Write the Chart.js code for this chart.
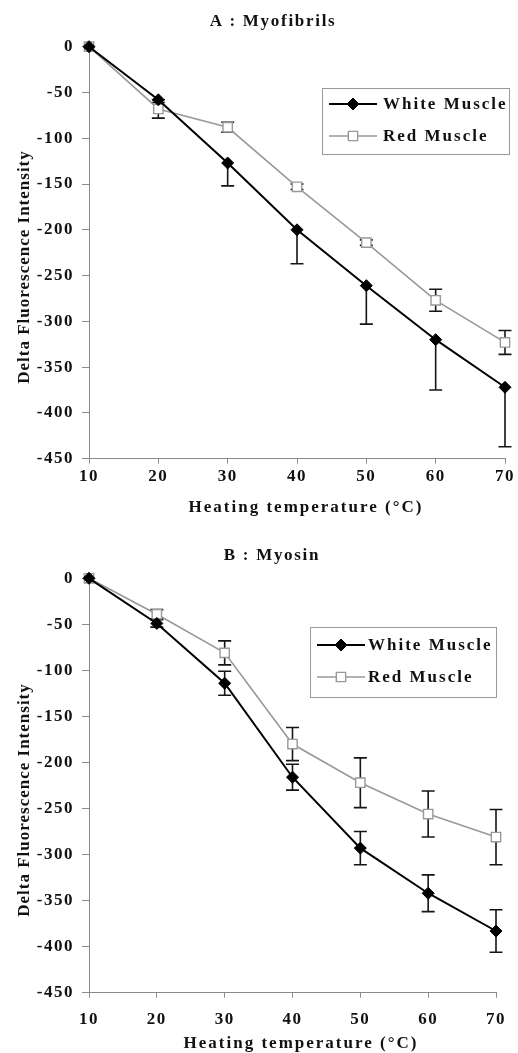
<!DOCTYPE html>
<html>
<head>
<meta charset="utf-8">
<script src="https://cdn.jsdelivr.net/npm/chart.js@4.4.1/dist/chart.umd.min.js"></script>
<style>
  html, body { margin: 0; padding: 0; background: #fff; overflow: hidden; }
  canvas { display: block; }
</style>
</head>
<body>
<canvas id="chartA" width="518" height="526"></canvas>
<canvas id="chartB" width="518" height="534"></canvas>
<script>
/* ---------- data ---------- */
const temps = [10, 20, 30, 40, 50, 60, 70];
const seriesNames = ["White Muscle", "Red Muscle"];

// A : Myofibrils
const whiteA = [0, -58, -127, -200, -261, -320, -372];
const whiteAErrUp = [0, 0, 0, 0, 0, 0, 0];
const whiteAErrDown = [0, 3, 25, 37, 42, 55, 65];
const redA = [0, -68, -88, -153, -214, -277, -323];
const redAErr = [0, 10, 5.5, 3, 3, 12, 13];

// B : Myosin
const whiteB = [0, -49, -114, -216, -293, -342, -383];
const whiteBErr = [0, 4, 13, 14, 18, 20, 23];
const redB = [0, -39, -81, -180, -222, -256, -281];
const redBErr = [0, 5, 13, 18, 27, 25, 30];

const xTitle = "Heating temperature (°C)";
const yTitle = "Delta Fluorescence Intensity";

/* ---------- styles ---------- */
const FONT = "'Liberation Serif', 'Times New Roman', serif";
const TEXT = "#111";
const AXIS = "#8a8a8a";
const RED_LINE = "#999";

const pts = vals => vals.map((v, i) => ({ x: temps[i], y: v }));

// canvas text in the scan is loosely spaced
const spacing = {
  id: "spacing",
  beforeLayout(c) { c.ctx.letterSpacing = "1.5px"; },
  beforeDraw(c) { c.ctx.letterSpacing = "1.5px"; }
};

// error bars under the lines/markers
const errorBars = {
  id: "errorBars",
  beforeDatasetsDraw(chart) {
    const { ctx, scales: { y } } = chart;
    ctx.save();
    ctx.strokeStyle = "#151515";
    ctx.lineWidth = 1.6;
    chart.data.datasets.forEach((ds, i) => {
      const meta = chart.getDatasetMeta(i);
      meta.data.forEach((p, j) => {
        const v = ds.data[j].y;
        const up = ds.errUp[j] || 0, dn = ds.errDown[j] || 0;
        if (!up && !dn) return;
        const yt = y.getPixelForValue(v + up);
        const yb = y.getPixelForValue(v - dn);
        ctx.beginPath();
        ctx.moveTo(p.x, yt); ctx.lineTo(p.x, yb);
        if (up) { ctx.moveTo(p.x - 6.5, yt); ctx.lineTo(p.x + 6.5, yt); }
        if (dn) { ctx.moveTo(p.x - 6.5, yb); ctx.lineTo(p.x + 6.5, yb); }
        ctx.stroke();
      });
    });
    ctx.restore();
  }
};

// chart + axis titles placed like the scan (not centred on the canvas)
const titles = {
  id: "titles",
  afterDraw(chart, args, o) {
    const ctx = chart.ctx;
    const put = (txt, x, y, rot, sp) => {
      ctx.save();
      ctx.letterSpacing = sp;
      ctx.font = "bold 17px " + FONT;
      ctx.fillStyle = TEXT;
      ctx.textAlign = "center";
      ctx.textBaseline = "middle";
      ctx.translate(x, y);
      if (rot) ctx.rotate(-Math.PI / 2);
      ctx.fillText(txt, 0, 0);
      ctx.restore();
    };
    put(o.text, o.tx, o.ty, false, "1.7px");
    put(xTitle, o.xx, o.xy, false, "2px");
    put(yTitle, o.yx, o.yy, true, "1px");
  }
};

function marker(ctx, style, x, y, r, fill, stroke, bw) {
  ctx.beginPath();
  if (style === "rectRot") {
    ctx.moveTo(x - r, y); ctx.lineTo(x, y - r); ctx.lineTo(x + r, y); ctx.lineTo(x, y + r);
  } else {
    const s = r * Math.SQRT1_2;
    ctx.rect(x - s, y - s, 2 * s, 2 * s);
  }
  ctx.closePath();
  ctx.fillStyle = fill; ctx.fill();
  ctx.lineWidth = bw; ctx.strokeStyle = stroke; ctx.stroke();
}

// boxed legend inside the plot
const boxLegend = {
  id: "boxLegend",
  afterDraw(chart, args, o) {
    const ctx = chart.ctx;
    ctx.save();
    ctx.letterSpacing = "2px";
    ctx.fillStyle = "#fff";
    ctx.fillRect(o.x, o.y, o.w, o.h);
    ctx.strokeStyle = "#9a9a9a"; ctx.lineWidth = 1;
    ctx.strokeRect(o.x + 0.5, o.y + 0.5, o.w, o.h);
    chart.data.datasets.forEach((ds, i) => {
      const ry = o.y + o.row1 + i * o.gap;
      ctx.beginPath();
      ctx.moveTo(o.x + 7, ry); ctx.lineTo(o.x + 55, ry);
      ctx.strokeStyle = ds.borderColor; ctx.lineWidth = ds.borderWidth;
      ctx.stroke();
      marker(ctx, ds.pointStyle, o.x + 31, ry, ds.pointRadius,
        ds.pointBackgroundColor, ds.pointBorderColor, ds.pointBorderWidth);
      ctx.fillStyle = TEXT;
      ctx.font = "bold 17px " + FONT;
      ctx.textBaseline = "middle";
      ctx.textAlign = "left";
      ctx.fillText(ds.label, o.x + o.textDx, ry + 1);
    });
    ctx.restore();
  }
};

function makeChart(id, cfg) {
  const datasets = [
    {
      label: seriesNames[0], data: pts(cfg.white),
      errUp: cfg.whiteUp, errDown: cfg.whiteDown,
      borderColor: "#000", borderWidth: 2,
      pointStyle: "rectRot", pointRadius: 6,
      pointBackgroundColor: "#000", pointBorderColor: "#000", pointBorderWidth: 1,
      clip: false, tension: 0
    },
    {
      label: seriesNames[1], data: pts(cfg.red),
      errUp: cfg.redErr, errDown: cfg.redErr,
      borderColor: RED_LINE, borderWidth: 1.6,
      pointStyle: "rect", pointRadius: 6.6,
      pointBackgroundColor: "#fff", pointBorderColor: RED_LINE, pointBorderWidth: 1.4,
      clip: false, tension: 0
    }
  ];
  return new Chart(document.getElementById(id), {
    type: "line",
    data: { datasets },
    plugins: [spacing, errorBars, boxLegend, titles],
    options: {
      responsive: false,
      animation: false,
      events: [],
      layout: { padding: { left: 0, right: cfg.padRight, top: cfg.padTop, bottom: cfg.padBottom } },
      plugins: {
        legend: { display: false },
        tooltip: { enabled: false },
        title: { display: false },
        boxLegend: cfg.legend,
        titles: cfg.titles
      },
      scales: {
        x: {
          type: "linear", min: 10, max: 70,
          afterFit: s => { s.height = cfg.xHeight; },
          ticks: { stepSize: 10, color: TEXT, padding: cfg.xTickPad,
                   font: { family: FONT, size: 17, weight: "bold" } },
          grid: { drawOnChartArea: false, drawTicks: true, tickLength: 5, color: AXIS },
          border: { color: AXIS, width: 1 },
          title: { display: false }
        },
        y: {
          min: -450, max: 0,
          afterFit: s => { s.width = 89; },
          ticks: { stepSize: 50, color: TEXT, padding: 8,
                   font: { family: FONT, size: 17, weight: "bold" } },
          grid: { drawOnChartArea: false, drawTicks: true, tickLength: 7, color: AXIS },
          border: { color: AXIS, width: 1 },
          title: { display: false }
        }
      }
    }
  });
}

makeChart("chartA", {
  white: whiteA, whiteUp: whiteAErrUp, whiteDown: whiteAErrDown,
  red: redA, redErr: redAErr,
  padTop: 46.7, padRight: 11, padBottom: 4, xHeight: 63.3, xTickPad: 3,
  legend: { x: 322, y: 88, w: 187, h: 66, row1: 16, gap: 32, textDx: 61 },
  titles: { text: "A : Myofibrils", tx: 273, ty: 22, xx: 306, xy: 508, yx: 25, yy: 267 }
});

makeChart("chartB", {
  white: whiteB, whiteUp: whiteBErr, whiteDown: whiteBErr,
  red: redB, redErr: redBErr,
  padTop: 52.3, padRight: 20, padBottom: 5, xHeight: 62.3, xTickPad: 12,
  legend: { x: 310, y: 101, w: 186, h: 70, row1: 18, gap: 32, textDx: 58 },
  titles: { text: "B : Myosin", tx: 272, ty: 30, xx: 301, xy: 518, yx: 25, yy: 274 }
});
</script>
</body>
</html>
